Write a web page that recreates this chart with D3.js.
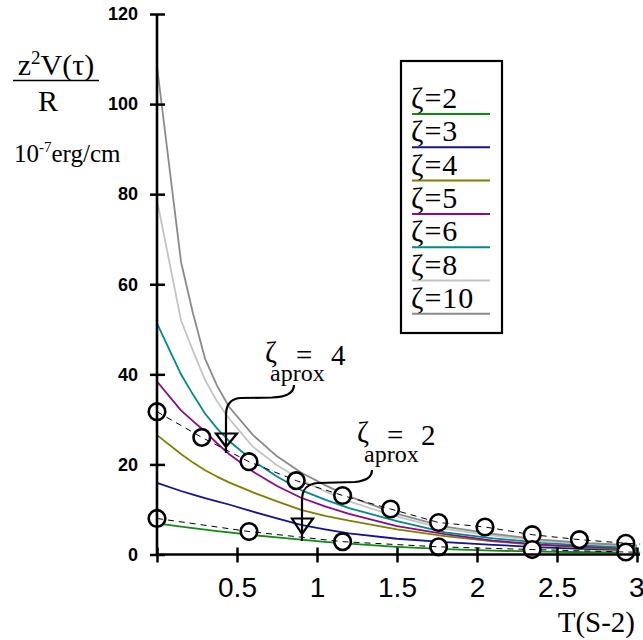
<!DOCTYPE html>
<html><head><meta charset="utf-8">
<script src="https://cdn.jsdelivr.net/npm/d3@7"></script>
<style>body{margin:0;background:#fff}</style>
</head><body>
<svg id="c" width="643" height="640"></svg>
<script>
// ---- data ----
const xGrid  = [0, 0.15, 0.225, 0.3, 0.375, 0.45, 0.6, 0.75, 0.9, 1.05, 1.2, 1.5, 1.8, 2.1, 2.4, 2.7, 3.0];
const zeta2  = [6.9, 6.2, 5.85, 5.5, 5.2, 4.9, 4.3, 3.8, 3.3, 2.8, 2.4, 1.7, 1.2, 0.85, 0.65, 0.5, 0.4];
const zeta3  = [15.9, 14.1, 13.3, 12.5, 11.8, 11.1, 9.5, 8.0, 6.6, 5.6, 4.7, 3.5, 2.75, 2.15, 1.6, 1.2, 0.9];
const zeta4  = [26.5, 22.3, 20.4, 18.7, 17.3, 16.0, 13.8, 11.8, 9.9, 8.6, 7.5, 5.6, 4.1, 2.9, 2.1, 1.5, 1.1];
const zeta5  = [38.4, 32.0, 29.6, 27.3, 24.7, 22.3, 18.4, 15.2, 12.6, 10.7, 9.0, 6.3, 4.5, 3.1, 2.2, 1.7, 1.3];
const zeta6  = [51.3, 40.0, 35.5, 31.3, 28.0, 25.2, 20.8, 17.3, 14.3, 12.2, 10.3, 7.4, 4.9, 3.6, 2.6, 2.0, 1.5];
const zeta8  = [78.7, 52.0, 45.2, 38.8, 34.0, 30.2, 23.9, 19.8, 16.6, 14.0, 11.8, 8.4, 5.7, 4.2, 3.0, 2.3, 1.8];
const zeta10 = [108.4, 65.0, 53.5, 43.5, 37.5, 32.8, 26.5, 21.8, 18.2, 15.4, 12.9, 9.0, 6.2, 4.6, 3.3, 2.5, 2.0];
const seriesNames = ["ζ=2", "ζ=3", "ζ=4", "ζ=5", "ζ=6", "ζ=8", "ζ=10"];
const seriesColors = ["#128a12", "#14148c", "#7f7f00", "#8a0a8a", "#008a8a", "#c4c4c4", "#8a8a8a"];

// approximation points (circles) and dashed approximation lines
const approx4X = [0, 0.28, 0.575, 0.87, 1.16, 1.46, 1.76, 2.05, 2.345, 2.64, 2.93];
const approx4Y = [31.7, 26.0, 20.6, 16.4, 13.1, 10.1, 7.1, 6.1, 4.4, 3.3, 2.5];
const approx2X = [0, 0.575, 1.16, 1.76, 2.345, 2.93];
const approx2Y = [8.0, 5.1, 2.85, 1.7, 1.1, 0.55];
const dash4X = [0, 0.28, 0.575, 0.87, 1.16, 1.46, 1.76, 2.05, 2.345, 2.64, 2.93, 3.02];
const dash4Y = [31.7, 26.0, 20.6, 16.4, 13.1, 10.1, 7.1, 6.1, 4.4, 3.3, 2.5, 2.3];
const dash2X = [0, 0.575, 1.16, 1.76, 2.345, 2.93, 3.02];
const dash2Y = [8.0, 5.1, 2.85, 1.7, 1.1, 0.55, 0.5];

const yTicks = [0, 20, 40, 60, 80, 100, 120];
const xTicks = [0, 0.5, 1, 1.5, 2, 2.5, 3];
const xTickLabels = ["", "0.5", "1", "1.5", "2", "2.5", "3"];

// ---- drawing ----
const serif = "'Liberation Serif','Times New Roman',serif";
const sans = "'Liberation Sans',Arial,sans-serif";
const svg = d3.select("#c");
const x = d3.scaleLinear().domain([0, 3]).range([157, 637]);
const y = d3.scaleLinear().domain([0, 120]).range([554.5, 14]);

const allSeries = [zeta2, zeta3, zeta4, zeta5, zeta6, zeta8, zeta10];
const line = d3.line().x(d => x(d[0])).y(d => y(d[1]));

// curves
allSeries.forEach((s, i) => {
  svg.append("path")
    .attr("d", line(xGrid.map((v, j) => [v, s[j]])))
    .attr("fill", "none").attr("stroke", seriesColors[i]).attr("stroke-width", 1.8)
    .attr("stroke-linejoin", "round");
});

// circles
function circles(xs, ys) {
  svg.append("g").selectAll("circle").data(xs.map((v, j) => [v, ys[j]])).join("circle")
    .attr("cx", d => x(d[0])).attr("cy", d => y(d[1])).attr("r", 8.3)
    .attr("fill", "#fff").attr("stroke", "#000").attr("stroke-width", 2.6);
}
circles(approx4X, approx4Y);
circles(approx2X, approx2Y);

// dashed approx lines
[[dash4X, dash4Y], [dash2X, dash2Y]].forEach(([xs, ys]) => {
  svg.append("path")
    .attr("d", line(xs.map((v, j) => [v, ys[j]])))
    .attr("fill", "none").attr("stroke", "#000").attr("stroke-width", 1)
    .attr("stroke-dasharray", "6,5");
});

// y axis
const yAxis = svg.append("g").attr("transform", `translate(${x(0)},0)`)
  .call(d3.axisLeft(y).tickValues(yTicks).tickSize(0).tickPadding(19).tickFormat(d3.format("d")));
yAxis.select(".domain").remove();
yAxis.selectAll(".tick line").attr("x1", -7).attr("x2", 8).attr("stroke", "#000").attr("stroke-width", 2.5);
yAxis.selectAll(".tick text").attr("font-family", sans).attr("font-weight", "bold").attr("font-size", 18).attr("fill", "#000");
yAxis.append("line").attr("x1", 0).attr("x2", 0).attr("y1", y(120)).attr("y2", y(0) + 1)
  .attr("stroke", "#000").attr("stroke-width", 2.6);

// x axis
const xAxis = svg.append("g").attr("transform", `translate(0,${y(0)})`)
  .call(d3.axisBottom(x).tickValues(xTicks).tickSize(0).tickPadding(0).tickFormat((d, i) => xTickLabels[i]));
xAxis.select(".domain").remove();
xAxis.selectAll(".tick line").attr("y1", -7).attr("y2", 8).attr("stroke", "#000").attr("stroke-width", 2.5);
xAxis.selectAll(".tick text").attr("font-family", sans).attr("font-size", 28).attr("fill", "#000")
  .attr("y", 42).attr("dy", 0);
xAxis.selectAll(".tick text").filter((d, i) => i === xTicks.length - 1).attr("text-anchor", "end").attr("x", 7);
xAxis.append("line").attr("x1", x(0) - 1).attr("x2", 640).attr("y1", 0).attr("y2", 0)
  .attr("stroke", "#000").attr("stroke-width", 2.6);

// x title
svg.append("text").attr("x", 635).attr("y", 632).attr("text-anchor", "end")
  .attr("font-family", serif).attr("font-size", 29).text("T(S-2)");

// y title (fraction)
const yt = svg.append("text").attr("x", 56).attr("y", 75).attr("text-anchor", "middle")
  .attr("font-family", serif).attr("font-size", 30);
yt.append("tspan").text("z");
yt.append("tspan").attr("font-size", 19).attr("dy", -11).text("2");
yt.append("tspan").attr("dy", 11).text("V(τ)");
svg.append("line").attr("x1", 13).attr("x2", 99).attr("y1", 80.5).attr("y2", 80.5)
  .attr("stroke", "#000").attr("stroke-width", 1.6);
svg.append("text").attr("x", 48).attr("y", 111).attr("text-anchor", "middle")
  .attr("font-family", serif).attr("font-size", 30).text("R");
const un = svg.append("text").attr("x", 14).attr("y", 162).attr("font-family", serif).attr("font-size", 25);
un.append("tspan").text("10");
un.append("tspan").attr("font-size", 15).attr("dy", -10).text("-7");
un.append("tspan").attr("dy", 10).text("erg/cm");

// legend
svg.append("rect").attr("x", 401).attr("y", 61).attr("width", 101).attr("height", 272)
  .attr("fill", "#fff").attr("stroke", "#000").attr("stroke-width", 2.2);
seriesNames.forEach((n, i) => {
  const ly = 114 + i * 33.3;
  svg.append("line").attr("x1", 412).attr("x2", 490).attr("y1", ly).attr("y2", ly)
    .attr("stroke", seriesColors[i]).attr("stroke-width", 2);
  svg.append("text").attr("x", 411).attr("y", ly - 6).attr("font-family", serif)
    .attr("font-size", 30).attr("letter-spacing", 1).text(n);
});

// annotations
function annot(zx, eqx, numx, base, num, apx, apBase) {
  svg.append("text").attr("x", zx).attr("y", base - 3).attr("font-family", serif).attr("font-size", 29).text("ζ");
  svg.append("text").attr("x", eqx).attr("y", base).attr("font-family", serif).attr("font-size", 29).text("=");
  svg.append("text").attr("x", numx).attr("y", base).attr("font-family", serif).attr("font-size", 29).text(num);
  svg.append("text").attr("x", apx).attr("y", apBase).attr("font-family", serif).attr("font-size", 24).text("aprox");
}
annot(265, 296, 331, 365, "4", 270, 381);
annot(357, 387, 421, 445, "2", 364, 462);

const arrows = [
  "M294,385 C294,393 285,397 272,397.5 L240,398 C230,399 226,405 226,415 L226,453",
  "M372,470 C372,478 365,481 355,482 L318,483 C306,484 302,490 302,500 L302,541"
];
arrows.forEach(p => svg.append("path").attr("d", p).attr("fill", "none").attr("stroke", "#000").attr("stroke-width", 2.2));
svg.append("path").attr("d", "M216,433.5 L237,433.5 L226,447 Z").attr("fill", "none").attr("stroke", "#000").attr("stroke-width", 2.2);
svg.append("path").attr("d", "M292,518.5 L313,518.5 L302,534 Z").attr("fill", "none").attr("stroke", "#000").attr("stroke-width", 2.2);
</script>
</body></html>
